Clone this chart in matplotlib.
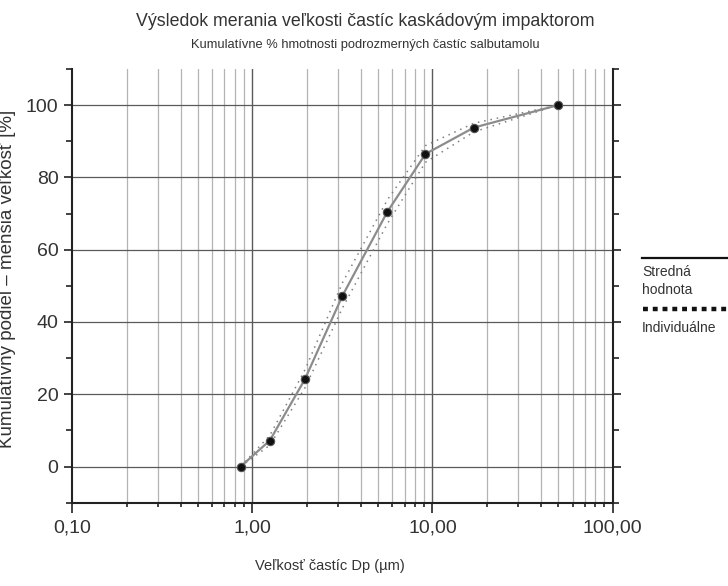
import matplotlib
matplotlib.use("Agg")
import matplotlib.pyplot as plt
from matplotlib.ticker import FixedLocator, FuncFormatter, NullFormatter
from matplotlib.lines import Line2D

plt.rcParams['font.family'] = ['Liberation Sans', 'DejaVu Sans']
NARROW = ['Liberation Sans Narrow', 'Liberation Sans', 'DejaVu Sans']

# Data
particle_size = [0.86, 1.25, 1.96, 3.16, 5.62, 9.15, 17.0, 49.8]
mean_cum = [0.0, 7.2, 24.2, 47.2, 70.5, 86.5, 93.8, 100.0]
indiv_a = [0.0, 8.6, 26.8, 50.8, 73.8, 88.8, 95.0, 100.0]
indiv_b = [0.0, 5.9, 21.8, 43.8, 67.2, 84.2, 92.6, 100.0]

x_major = [0.1, 1, 10, 100]
x_major_labels = ["0,10", "1,00", "10,00", "100,00"]
y_major = [0, 20, 40, 60, 80, 100]

title = "Výsledok merania veľkosti častíc kaskádovým impaktorom"
subtitle = "Kumulatívne % hmotnosti podrozmerných častíc salbutamolu"
xlabel = "Veľkosť častíc Dp (µm)"
ylabel = "Kumulatívny podiel – menšia veľkosť [%]"
legend_mean = "Stredná\nhodnota"
legend_ind = "Individuálne"

W, H = 728, 586
fig = plt.figure(figsize=(W / 100, H / 100), dpi=100)
ax = fig.add_axes([72.3 / W, (H - 502.7) / H, (612.5 - 72.3) / W, (502.7 - 69) / H])

ax.set_xscale('log')
ax.set_xlim(0.1, 100)
ax.set_ylim(-10, 110)

x_minor = [m * d for d in (0.1, 1, 10) for m in range(2, 10)]
ax.xaxis.set_major_locator(FixedLocator(x_major))
ax.xaxis.set_minor_locator(FixedLocator(x_minor))
ax.xaxis.set_major_formatter(FuncFormatter(lambda v, p: x_major_labels[x_major.index(v)] if v in x_major else ""))
ax.xaxis.set_minor_formatter(NullFormatter())
ax.yaxis.set_major_locator(FixedLocator(y_major))
ax.yaxis.set_minor_locator(FixedLocator(list(range(-10, 111, 20))))

# grid
for v in x_minor:
    ax.axvline(v, color='#b4b4b4', lw=0.9, zorder=0.5)
for v in [1, 10]:
    ax.axvline(v, color='#5a5a5a', lw=1.0, zorder=0.6)
for v in y_major:
    ax.axhline(v, color='#5a5a5a', lw=0.9, zorder=0.6)

ax.spines['top'].set_visible(False)
for s in ['left', 'right', 'bottom']:
    ax.spines[s].set_linewidth(1.5)
    ax.spines[s].set_color('#222222')

ax.tick_params(axis='y', which='both', left=True, right=True, direction='out',
               color='#222222', labelsize=14, labelcolor='#333333')
ax.tick_params(axis='y', which='major', length=6, width=1.2, pad=4)
ax.tick_params(axis='y', which='minor', length=4, width=1.2)
ax.tick_params(axis='x', which='both', direction='out', color='#222222',
               labelsize=14, labelcolor='#333333')
ax.tick_params(axis='x', which='major', length=7, width=1.2, pad=5)
ax.tick_params(axis='x', which='minor', length=3, width=1.2)
ax.tick_params(axis='y', which='both', labelright=False)

# individual curves
ax.plot(particle_size, indiv_a, color='#808080', lw=1.1, ls=(0, (1, 3.2)), zorder=2)
ax.plot(particle_size, indiv_b, color='#808080', lw=1.1, ls=(0, (1, 3.2)), zorder=2)
# mean curve
ax.plot(particle_size, mean_cum, color='#8c8c8c', lw=1.6, zorder=3,
        marker='o', markersize=6, markerfacecolor='#111111', markeredgecolor='#555555',
        markeredgewidth=0.8)

# titles
fig.text(365 / W, 1 - 21 / H, title, ha='center', va='center', fontsize=12.8,
         color='#333333', family=NARROW)
fig.text(365 / W, 1 - 45 / H, subtitle, ha='center', va='center', fontsize=9.3,
         color='#333333', family=NARROW)
fig.text(330 / W, 1 - 566 / H, xlabel, ha='center', va='center', fontsize=10.5,
         color='#333333', family=NARROW)
fig.text(8 / W, 1 - 279 / H, ylabel, ha='center', va='center', rotation=90, fontsize=13.5,
         color='#333333', family=NARROW)

# legend (outside, right)
fig.add_artist(Line2D([642 / W, 728 / W], [1 - 258 / H, 1 - 258 / H], color='#111111', lw=1.6))
fig.text(642 / W, 1 - 281 / H, legend_mean, ha='left', va='center', fontsize=10, color='#333333',
         linespacing=1.3)
fig.add_artist(Line2D([643 / W, 728 / W], [1 - 309 / H, 1 - 309 / H], color='#111111', lw=3.2,
                      ls=(0, (1.1, 1.1))))
fig.text(642 / W, 1 - 328 / H, legend_ind, ha='left', va='center', fontsize=10, color='#333333')

fig.savefig('out.png', dpi=100)
